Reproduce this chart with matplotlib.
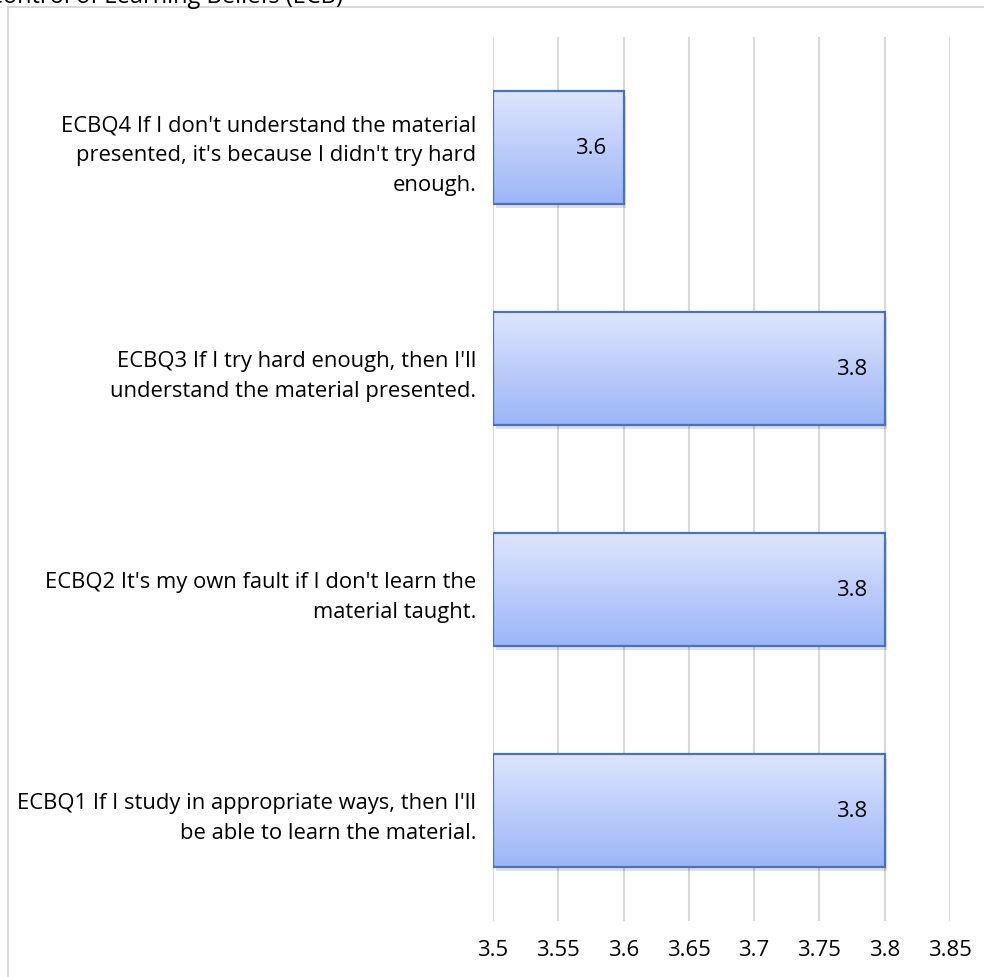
import numpy as np
import matplotlib.pyplot as plt
from matplotlib.patches import Rectangle

plt.rcParams['font.family'] = ['Open Sans', 'DejaVu Sans']

# survey items, bottom to top
items = ["ECBQ1 If I study in appropriate ways, then I'll\nbe able to learn the material.",
         "ECBQ2 It's my own fault if I don't learn the\nmaterial taught.",
         "ECBQ3 If I try hard enough, then I'll\nunderstand the material presented.",
         "ECBQ4 If I don't understand the material\npresented, it's because I didn't try hard\nenough."]
means = [3.8, 3.8, 3.8, 3.6]
xticks = [3.5, 3.55, 3.6, 3.65, 3.7, 3.75, 3.8, 3.85]
base = 3.5

W, H = 984, 978
fig = plt.figure(figsize=(W / 100, H / 100), dpi=100)
ax = fig.add_axes([493 / W, 1 - 922 / H, (950 - 493) / W, (922 - 38) / H])

# chart area frame
fig.patches.append(Rectangle((8 / W, -0.01), 1.0, 1 - 8 / H + 0.01,
                             transform=fig.transFigure, fill=False,
                             edgecolor='#d9d9d9', lw=1.5, zorder=0))
fig.text(-0.012, 1 - 3 / H, "Control of Learning Beliefs (ECB)", fontsize=17,
         va='baseline', ha='left', color='black')

ypos = np.arange(len(items))
bars = ax.barh(ypos, np.array(means) - base, left=base, height=0.51,
               facecolor='none', edgecolor='#4472c4', lw=1.6, zorder=4)

grad = np.linspace(0, 1, 256).reshape(-1, 1)
top = np.array([0.87, 0.90, 0.99])
bot = np.array([0.61, 0.71, 0.97])
img = top + (bot - top) * grad[:, :, None]

for b, v in zip(bars, means):
    x0, y0 = b.get_x(), b.get_y()
    w, h = b.get_width(), b.get_height()
    # soft drop shadow
    ax.add_patch(Rectangle((x0 + 0.002, y0 - 0.02), w, h, facecolor='#000000',
                           alpha=0.12, edgecolor='none', zorder=2))
    im = ax.imshow(img, extent=[x0, x0 + w, y0, y0 + h], origin='upper',
                   aspect='auto', zorder=3)
    im.set_clip_path(b)
    ax.text(x0 + w - 0.013, y0 + h / 2, f"{v:g}", ha='right', va='center',
            fontsize=16, zorder=5)

ax.set_xlim(3.5, 3.85)
ax.set_ylim(-0.5, len(items) - 0.5)
ax.set_xticks(xticks)
ax.set_xticklabels([f"{t:g}" for t in xticks], fontsize=16)
ax.set_yticks(ypos)
ax.set_yticklabels(items, fontsize=15.8, multialignment='right', linespacing=1.55)
ax.tick_params(axis='both', length=0)
ax.tick_params(axis='x', pad=13)
ax.tick_params(axis='y', pad=12)
ax.grid(axis='x', color='#d9d9d9', lw=1.5, zorder=0)
ax.set_axisbelow(True)
for s in ax.spines.values():
    s.set_visible(False)

fig.savefig('out.png', dpi=100)
